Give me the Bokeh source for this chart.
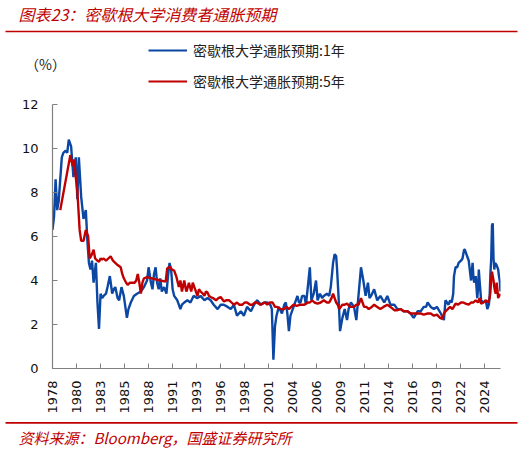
import math
from bokeh.plotting import figure
from bokeh.layouts import column
from bokeh.models import (Range1d, FixedTicker, Label, BoxAnnotation, Legend, LegendItem)
from bokeh.embed import file_html
from bokeh.resources import INLINE

# ---- data (month index from 1978-01) ----
months_1y = [0, 2, 4, 6, 8, 10, 12, 14, 17, 19, 21, 24, 27, 30, 32, 34, 37, 40, 43, 45,
             47, 49, 51, 53, 56, 58, 60, 62, 64, 66, 69, 71, 74, 77, 79, 81, 84, 86, 89, 92,
             94, 96, 98, 101, 105, 109, 114, 118, 122, 124, 127, 129, 131, 133, 135, 137, 139, 141, 144, 147,
             149, 151, 153, 155, 157, 161, 165, 167, 170, 174, 178, 182, 187, 191, 196, 200, 204, 208, 213, 217,
             221, 226, 230, 234, 238, 243, 247, 251, 256, 260, 264, 269, 273, 277, 281, 283, 285, 287, 289, 292,
             296, 299, 301, 303, 305, 307, 311, 314, 316, 318, 320, 322, 325, 327, 330, 332, 334, 337, 340, 342,
             345, 348, 350, 354, 357, 359, 362, 364, 366, 367, 369, 371, 374, 377, 380, 382, 385, 389, 392, 395,
             398, 401, 404, 407, 409, 411, 415, 419, 423, 428, 432, 436, 441, 445, 449, 453, 458, 462, 466, 471,
             475, 479, 482, 484, 488, 492, 496, 501, 505, 507, 509, 511, 513, 515, 517, 518, 520, 522, 524, 527,
             529, 531, 532, 534, 536, 537, 540, 542, 543, 544, 546, 548, 549, 550, 551, 553, 556, 559, 561, 563,
             564, 565, 566, 567, 568, 569, 570, 571, 573, 574, 575, 576, 577, 578]
infl_1y = [6.3, 6.9, 8.6, 7.2, 7.6, 8.6, 9.6, 9.8, 9.9, 9.8, 10.4, 10.1, 8.7, 9.6, 7.7, 9.6, 7.8, 6.8, 7.2, 5.8,
           4.8, 4.5, 4.9, 3.9, 4.8, 3.0, 1.8, 3.4, 3.2, 3.3, 3.4, 3.7, 4.2, 3.4, 3.6, 3.7, 3.2, 3.1, 3.7, 3.3,
           2.8, 2.3, 2.7, 3.0, 3.3, 3.4, 3.5, 3.7, 4.0, 4.6, 3.9, 3.6, 4.3, 4.6, 3.9, 3.6, 4.1, 3.5, 3.7, 3.4,
           4.2, 4.8, 4.5, 3.6, 3.3, 3.1, 2.7, 2.9, 3.0, 3.1, 3.0, 3.3, 3.2, 3.3, 3.1, 3.2, 3.1, 2.9, 2.7, 2.9,
           2.9, 2.8, 2.7, 2.9, 2.4, 2.6, 2.4, 2.8, 2.6, 2.9, 3.1, 2.9, 3.0, 3.0, 2.9, 2.7, 0.4, 1.9, 2.4, 2.8,
           2.5, 2.9, 3.0, 2.5, 1.7, 2.4, 2.8, 3.1, 3.3, 3.0, 3.0, 3.3, 3.3, 2.9, 3.9, 4.6, 3.1, 3.4, 4.0, 3.1,
           3.4, 3.2, 3.3, 3.4, 3.3, 3.7, 4.8, 5.2, 5.1, 4.6, 3.3, 1.7, 2.3, 2.7, 2.2, 2.7, 3.0, 2.8, 2.2, 3.4,
           4.6, 4.0, 3.3, 3.9, 3.2, 3.3, 3.6, 3.1, 3.3, 3.0, 3.3, 2.9, 2.9, 2.7, 2.7, 2.6, 2.6, 2.5, 2.3, 2.6,
           2.6, 2.8, 2.8, 3.0, 2.8, 2.7, 2.8, 2.5, 2.2, 3.1, 3.0, 2.9, 3.1, 3.0, 3.4, 4.2, 4.6, 4.6, 4.8, 4.9,
           5.0, 5.4, 5.4, 5.2, 5.0, 4.9, 4.0, 4.8, 4.2, 3.9, 4.2, 3.2, 3.6, 4.5, 4.0, 3.1, 3.0, 3.1, 2.7, 2.9,
           3.3, 4.3, 5.0, 6.5, 6.6, 5.0, 4.5, 4.8, 4.7, 4.6, 4.5, 4.2, 4.0, 3.5]

months_5y = [10, 23, 26, 28, 30, 32, 35, 37, 40, 43, 46, 48, 51, 53, 55, 58, 60, 62, 64, 66,
             69, 72, 75, 78, 81, 84, 88, 90, 92, 95, 97, 100, 103, 106, 108, 110, 112, 114, 116, 118,
             122, 139, 146, 148, 150, 152, 154, 157, 160, 163, 165, 167, 170, 172, 173, 176, 179, 181, 183, 185,
             187, 189, 191, 194, 196, 198, 200, 202, 204, 207, 211, 214, 217, 221, 224, 228, 231, 234, 238, 241,
             245, 248, 251, 255, 258, 261, 264, 268, 271, 274, 277, 280, 284, 287, 290, 294, 299, 302, 305, 308,
             311, 315, 320, 325, 329, 332, 335, 338, 342, 346, 350, 354, 357, 360, 362, 364, 366, 368, 370, 372,
             374, 377, 380, 384, 389, 392, 395, 398, 400, 402, 405, 408, 412, 415, 419, 423, 427, 432, 436, 441,
             445, 449, 453, 458, 462, 466, 471, 475, 479, 484, 488, 492, 496, 500, 503, 505, 507, 510, 513, 516,
             520, 523, 527, 530, 533, 537, 540, 543, 546, 549, 551, 553, 556, 559, 562, 564, 565, 566, 567, 568,
             569, 570, 571, 572, 573, 574, 575, 576, 577, 578]
infl_5y = [7.2, 9.7, 9.2, 9.5, 8.7, 8.1, 6.3, 5.8, 5.8, 6.3, 6.0, 5.0, 5.2, 5.4, 5.0, 4.9, 4.85, 5.0, 4.95, 5.0,
           4.9, 5.0, 5.1, 4.9, 4.8, 4.7, 4.6, 4.3, 4.1, 3.9, 3.8, 3.9, 3.9, 3.9, 4.0, 4.3, 3.9, 3.4, 3.9, 4.1,
           4.15, 4.0, 3.95, 4.55, 4.6, 4.6, 4.5, 4.45, 4.15, 3.7, 4.0, 3.5, 4.0, 3.6, 3.5, 3.9, 3.5, 3.9, 3.7, 3.5,
           3.3, 3.6, 3.5, 3.4, 3.3, 3.5, 3.45, 3.3, 3.25, 3.2, 3.1, 3.2, 3.25, 3.05, 3.1, 3.1, 3.0, 2.9, 3.0, 2.9,
           2.9, 3.0, 3.0, 2.9, 2.9, 3.0, 3.0, 2.9, 2.95, 3.0, 2.9, 3.0, 3.0, 2.8, 2.8, 2.7, 2.7, 2.8, 2.7, 2.8,
           2.9, 2.85, 2.9, 2.9, 3.0, 3.0, 3.1, 3.0, 2.95, 3.0, 3.1, 3.0, 3.0, 3.2, 3.4, 3.2, 3.0, 2.9, 2.7, 2.8,
           2.9, 2.9, 2.95, 2.8, 2.8, 2.9, 2.9, 3.2, 3.0, 2.8, 2.8, 2.7, 2.8, 2.9, 2.8, 2.7, 2.8, 2.9, 2.8, 2.65,
           2.65, 2.7, 2.6, 2.6, 2.5, 2.5, 2.5, 2.5, 2.45, 2.5, 2.5, 2.4, 2.45, 2.3, 2.25, 2.5, 2.6, 2.7, 2.8, 2.7,
           2.95, 2.9, 3.0, 3.0, 2.95, 2.9, 3.0, 3.0, 3.1, 3.0, 3.2, 2.95, 3.0, 3.1, 3.0, 3.2, 3.5, 4.1, 4.4, 4.2,
           4.0, 3.7, 3.5, 3.4, 3.9, 3.6, 3.2, 3.3, 3.3, 3.4]

x_tick_labels = ["1978", "1980", "1983", "1985", "1988", "1991", "1993", "1996", "1998", "2001",
                 "2004", "2006", "2009", "2011", "2014", "2016", "2019", "2022", "2024"]
x_tick_step = 31
y_ticks = [0, 2, 4, 6, 8, 10, 12]

series_names = ["密歇根大学通胀预期:1年", "密歇根大学通胀预期:5年"]
title_text = "图表23：密歇根大学消费者通胀预期"
source_text = "资料来源：Bloomberg，国盛证券研究所"
unit_text = "（%）"

BLUE = "#0B47A3"
RED = "#C00000"
AXIS = "#808080"
W = 526
CJK = "Noto Sans CJK SC"


def no_align(f):
    try:
        f.frame_align = False
    except Exception:
        pass


def bare(height):
    f = figure(width=W, height=height, output_backend="svg", toolbar_location=None,
               x_range=Range1d(0, W), y_range=Range1d(height, 0),
               x_axis_location=None, y_axis_location=None,
               min_border=0, min_border_left=0, min_border_right=0,
               min_border_top=0, min_border_bottom=0)
    f.outline_line_color = None
    f.grid.visible = False
    no_align(f)
    return f


# ---- header: title, red rule, legend, unit ----
top = bare(96)
top.add_layout(Label(x=18, y=13, text=title_text, text_font=CJK, text_font_size="16px",
                     text_font_style="italic", text_color=RED,
                     text_baseline="middle", text_align="left"))
top.add_layout(BoxAnnotation(left=5, right=517, top=30.2, bottom=31.8,
                             fill_color=RED, fill_alpha=1, line_color=None))
top.add_layout(Label(x=45, y=63, text=unit_text, text_font=CJK, text_font_size="14px",
                     text_color="#222222", text_baseline="middle", text_align="center"))
# legend proxies: the real series, hidden in this header panel
lg1 = top.line(months_1y, infl_1y, line_color=BLUE, line_width=2.2, visible=False)
lg2 = top.line(months_5y, infl_5y, line_color=RED, line_width=2.2, visible=False)
legend = Legend(items=[LegendItem(label=series_names[0], renderers=[lg1]),
                       LegendItem(label=series_names[1], renderers=[lg2])],
                location=(148, 5), orientation="vertical",
                padding=0, margin=0, spacing=11, glyph_width=39, glyph_height=20,
                label_height=20, label_standoff=6,
                label_text_font=CJK, label_text_font_size="14px",
                label_text_color="#222222", inactive_fill_alpha=0,
                border_line_color=None, background_fill_alpha=0)
top.add_layout(legend, "center")

# ---- main chart ----
p = figure(width=W, height=322, output_backend="svg", toolbar_location=None,
           x_range=Range1d(0, months_1y[-1]), y_range=Range1d(0, 12),
           min_border_left=52, min_border_right=26, min_border_top=8, min_border_bottom=50)
p.outline_line_color = None
p.grid.visible = False
no_align(p)

p.line(months_1y, infl_1y, line_color=BLUE, line_width=2.4)
p.line(months_5y, infl_5y, line_color=RED, line_width=2.4)

xticks = [x_tick_step * k for k in range(len(x_tick_labels))]
p.xaxis.ticker = FixedTicker(ticks=xticks)
p.xaxis.major_label_overrides = {t: lab for t, lab in zip(xticks, x_tick_labels)}
p.xaxis.major_label_orientation = math.pi / 2
p.yaxis.ticker = FixedTicker(ticks=y_ticks)

for ax in (p.xaxis[0], p.yaxis[0]):
    ax.axis_line_color = AXIS
    ax.axis_line_width = 1.2
    ax.major_tick_line_color = AXIS
    ax.major_tick_in = 5
    ax.major_tick_out = 0
    ax.minor_tick_line_color = None
    ax.major_label_text_font = "DejaVu Sans"
    ax.major_label_text_font_size = "13px"
    ax.major_label_text_color = "#111111"
p.xaxis.major_label_standoff = 12
p.yaxis.major_label_standoff = 14

# ---- footer: red rule and source ----
bot = bare(32)
bot.add_layout(BoxAnnotation(left=5, right=517, top=3.6, bottom=5.2,
                             fill_color=RED, fill_alpha=1, line_color=None))
bot.add_layout(Label(x=18, y=19, text=source_text, text_font=CJK, text_font_size="15px",
                     text_font_style="italic", text_color=RED,
                     text_baseline="middle", text_align="left"))

layout = column(top, p, bot, spacing=0)
open("out.html", "w").write(file_html(layout, INLINE))
